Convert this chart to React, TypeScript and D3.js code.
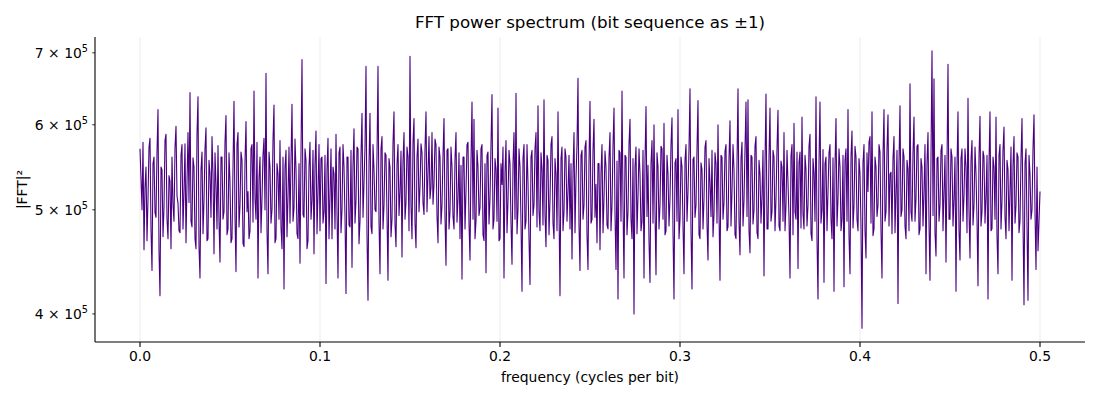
import React from 'react';
import * as d3 from 'd3';

// |FFT|^2, in thousands (x1e3), evenly spaced from f = 0 to f = 0.5
const powerK: number[] = [
  570, 535, 500, 578, 459, 525, 548, 468, 512, 572, 583, 480, 439, 552, 560, 497, 492, 566, 620, 458,
  416, 548, 545, 472, 503, 580, 588, 490, 470, 538, 532, 460, 560, 505, 488, 571, 598, 515, 507, 478,
  476, 562, 575, 480, 520, 576, 466, 530, 590, 508, 643, 488, 482, 559, 548, 470, 460, 588, 637, 462,
  432, 545, 566, 475, 510, 570, 596, 468, 470, 556, 540, 492, 585, 540, 455, 565, 528, 480, 574, 488,
  447, 560, 560, 490, 498, 578, 612, 474, 480, 565, 530, 466, 470, 548, 631, 492, 438, 575, 590, 482,
  505, 566, 556, 465, 462, 555, 604, 498, 520, 470, 478, 570, 575, 487, 645, 512, 490, 578, 432, 535,
  560, 476, 512, 562, 583, 500, 670, 478, 436, 566, 548, 486, 500, 580, 626, 466, 470, 552, 540, 490,
  580, 482, 460, 560, 422, 548, 568, 472, 515, 572, 486, 555, 627, 488, 502, 582, 545, 475, 470, 552,
  446, 566, 690, 495, 492, 570, 556, 460, 468, 548, 578, 490, 510, 568, 455, 552, 592, 475, 520, 575,
  478, 558, 560, 486, 498, 562, 427, 545, 583, 470, 515, 570, 470, 548, 540, 480, 588, 498, 432, 565,
  572, 476, 500, 575, 548, 492, 418, 560, 560, 484, 482, 568, 442, 550, 595, 486, 510, 572, 570, 465,
  488, 562, 615, 492, 530, 572, 680, 474, 412, 552, 615, 482, 475, 575, 545, 500, 498, 562, 680, 488,
  436, 570, 585, 480, 505, 565, 562, 495, 430, 558, 548, 472, 490, 576, 617, 485, 462, 552, 575, 494,
  520, 567, 452, 555, 590, 490, 508, 572, 560, 478, 695, 505, 470, 578, 608, 486, 461, 560, 582, 498,
  525, 576, 565, 508, 495, 570, 617, 498, 540, 585, 512, 525, 590, 506, 528, 582, 575, 494, 466, 572,
  560, 485, 505, 562, 608, 492, 444, 568, 570, 480, 498, 572, 548, 493, 480, 558, 590, 487, 512, 565,
  470, 550, 431, 560, 560, 480, 520, 575, 578, 486, 449, 556, 630, 490, 607, 470, 488, 568, 548, 494,
  502, 570, 575, 474, 468, 552, 437, 562, 566, 485, 512, 575, 640, 480, 490, 558, 545, 488, 622, 468,
  470, 552, 528, 572, 432, 542, 580, 476, 510, 568, 552, 486, 445, 552, 590, 490, 642, 475, 500, 570,
  548, 486, 420, 558, 575, 480, 488, 575, 530, 470, 426, 560, 568, 494, 505, 570, 590, 482, 625, 498,
  478, 565, 545, 484, 633, 495, 462, 562, 556, 474, 510, 575, 585, 486, 470, 558, 540, 478, 617, 500,
  416, 558, 572, 478, 498, 570, 560, 488, 520, 562, 480, 552, 450, 542, 590, 476, 535, 575, 663, 484,
  439, 562, 568, 490, 505, 572, 580, 474, 440, 555, 631, 486, 490, 568, 607, 492, 528, 466, 552, 552,
  459, 542, 575, 476, 512, 567, 548, 484, 480, 560, 590, 478, 505, 573, 622, 496, 440, 555, 413, 568,
  565, 488, 645, 506, 432, 562, 560, 474, 498, 575, 607, 490, 470, 558, 400, 548, 572, 475, 515, 570,
  540, 478, 488, 568, 432, 555, 624, 493, 550, 468, 428, 552, 580, 486, 600, 498, 435, 565, 548, 480,
  505, 573, 570, 490, 602, 474, 478, 562, 540, 483, 512, 575, 609, 478, 413, 553, 558, 488, 620, 470,
  490, 560, 548, 484, 436, 556, 575, 488, 520, 570, 648, 478, 422, 557, 560, 492, 505, 570, 632, 474,
  470, 553, 545, 480, 512, 572, 580, 485, 449, 558, 530, 493, 568, 472, 495, 565, 552, 486, 600, 498,
  430, 562, 560, 490, 508, 567, 575, 478, 482, 558, 605, 483, 520, 575, 545, 474, 470, 553, 648, 488,
  454, 558, 578, 483, 510, 570, 630, 493, 633, 478, 456, 562, 560, 485, 500, 573, 585, 476, 470, 556,
  540, 486, 515, 568, 434, 553, 641, 480, 480, 560, 622, 488, 498, 568, 560, 478, 512, 570, 619, 483,
  478, 555, 548, 488, 590, 478, 505, 568, 530, 492, 432, 561, 575, 474, 602, 498, 490, 566, 441, 553,
  566, 481, 610, 496, 480, 562, 545, 483, 505, 573, 588, 475, 468, 558, 540, 488, 637, 470, 413, 555,
  630, 486, 500, 569, 428, 552, 560, 478, 520, 565, 575, 490, 470, 559, 420, 550, 608, 483, 512, 570,
  548, 478, 490, 562, 424, 556, 570, 488, 620, 473, 436, 561, 592, 481, 505, 573, 560, 490, 478, 558,
  540, 483, 388, 553, 575, 478, 451, 565, 520, 578, 585, 486, 617, 473, 480, 560, 548, 493, 505, 575,
  566, 478, 432, 562, 620, 488, 498, 570, 613, 483, 540, 542, 475, 558, 585, 476, 520, 568, 409, 553,
  625, 493, 500, 570, 560, 483, 470, 556, 545, 478, 655, 498, 488, 565, 610, 488, 512, 573, 575, 474,
  480, 558, 548, 483, 520, 575, 436, 553, 590, 486, 430, 562, 703, 494, 662, 476, 453, 558, 560, 488,
  505, 568, 575, 478, 520, 562, 447, 550, 683, 490, 490, 570, 560, 483, 512, 560, 420, 548, 617, 478,
  449, 558, 570, 488, 515, 570, 548, 476, 635, 498, 451, 557, 580, 484, 505, 572, 540, 490, 425, 560,
  611, 483, 498, 567, 560, 486, 515, 562, 413, 552, 617, 478, 480, 560, 548, 490, 610, 473, 436, 562,
  575, 480, 510, 568, 597, 493, 470, 556, 545, 478, 520, 572, 430, 550, 585, 486, 505, 565, 560, 476,
  488, 558, 608, 488, 408, 552, 570, 483, 412, 562, 540, 490, 500, 570, 613, 498, 440, 548, 458, 488,
  520,
];

const xTicks = [0, 0.1, 0.2, 0.3, 0.4, 0.5];
const yTicks = [4e5, 5e5, 6e5, 7e5];
const yTickMantissa = ['4', '5', '6', '7'];

const W = 1100;
const H = 400;
const M = { left: 95, right: 1085, top: 37, bottom: 342 };
const FONT = 'DejaVu Sans, sans-serif';

interface Pt { f: number; p: number; }

const App: React.FC = () => {
  const pts: Pt[] = powerK.map((v, i) => ({ f: (i * 0.5) / (powerK.length - 1), p: v * 1000 }));

  const x = d3.scaleLinear().domain([-0.025, 0.525]).range([M.left, M.right]);

  // matplotlib-style 5% margin in log space
  const [pMin, pMax] = d3.extent(pts, d => d.p) as [number, number];
  const lo = Math.log10(pMin);
  const hi = Math.log10(pMax);
  const pad = (hi - lo) * 0.05;
  const y = d3.scaleLog().domain([10 ** (lo - pad), 10 ** (hi + pad)]).range([M.bottom, M.top]);

  const line = d3.line<Pt>().x(d => x(d.f)).y(d => y(d.p));

  return (
    <svg width={W} height={H} style={{ position: 'absolute', left: 0, top: 0 }} fontFamily={FONT}>
      <rect width={W} height={H} fill="#fff" />

      {/* vertical grid */}
      {xTicks.map(t => (
        <line key={'g' + t} x1={x(t)} x2={x(t)} y1={M.top} y2={M.bottom} stroke="#b0b0b0" strokeOpacity={0.3} strokeWidth={0.8} />
      ))}

      <path d={line(pts) || ''} fill="none" stroke="#4b0082" strokeWidth={1.1} strokeLinejoin="round" />

      {/* spines */}
      <line x1={M.left} x2={M.left} y1={M.top} y2={M.bottom} stroke="#000" strokeWidth={1.1} />
      <line x1={M.left} x2={M.right} y1={M.bottom} y2={M.bottom} stroke="#000" strokeWidth={1.1} />

      {/* x axis */}
      {xTicks.map(t => (
        <g key={'x' + t}>
          <line x1={x(t)} x2={x(t)} y1={M.bottom} y2={M.bottom + 4.9} stroke="#000" strokeWidth={1.1} />
          <text x={x(t)} y={M.bottom + 19} textAnchor="middle" fontSize={13.9}>{t.toFixed(1)}</text>
        </g>
      ))}

      {/* y axis */}
      {yTicks.map((t, i) => (
        <g key={'y' + t}>
          <line x1={M.left - 2.8} x2={M.left} y1={y(t)} y2={y(t)} stroke="#000" strokeWidth={0.8} />
          <text x={M.left - 7} y={y(t) + 5} textAnchor="end" fontSize={13.9}>
            {yTickMantissa[i]} × 10<tspan fontSize={9.7} dy={-6}>5</tspan>
          </text>
        </g>
      ))}

      <text x={(M.left + M.right) / 2} y={28} textAnchor="middle" fontSize={16.7}>FFT power spectrum (bit sequence as ±1)</text>
      <text x={(M.left + M.right) / 2} y={382} textAnchor="middle" fontSize={13.9}>frequency (cycles per bit)</text>
      <text transform={`translate(27, ${(M.top + M.bottom) / 2}) rotate(-90)`} textAnchor="middle" fontSize={13.9}>|FFT|²</text>
    </svg>
  );
};

export default App;
